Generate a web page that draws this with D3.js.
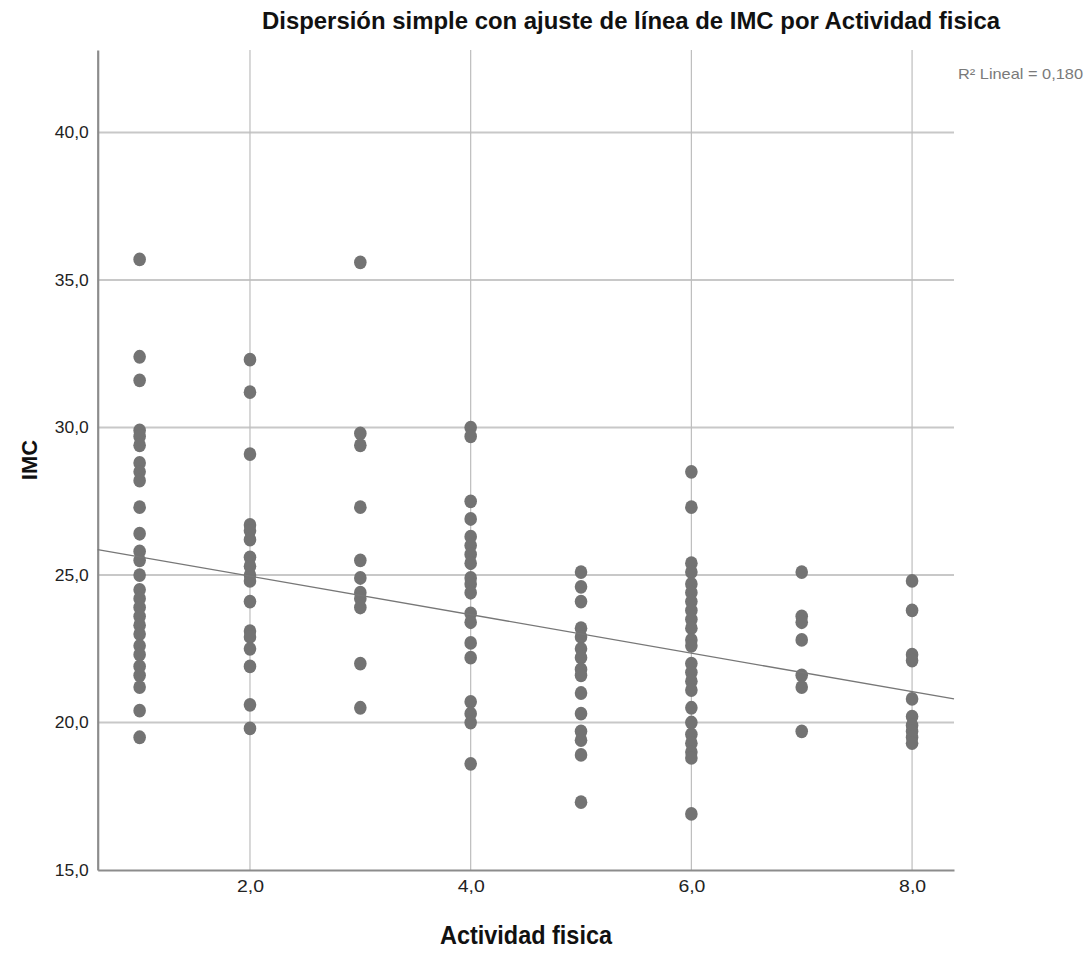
<!DOCTYPE html>
<html>
<head>
<meta charset="utf-8">
<script src="https://cdn.jsdelivr.net/npm/d3@7"></script>
<style>
  html, body { margin: 0; padding: 0; background: #fff; }
  svg { display: block; }
</style>
</head>
<body>
<svg id="chart" width="1090" height="968"></svg>
<script>
// ---- Data ----
const actividad1 = [35.7, 32.4, 31.6, 29.9, 29.7, 29.4, 28.8, 28.5, 28.2, 27.3, 26.4, 25.8, 25.5, 25.0, 24.5, 24.2, 23.9, 23.6, 23.3, 23.0, 22.6, 22.3, 21.9, 21.6, 21.2, 20.4, 19.5];
const actividad2 = [32.3, 31.2, 29.1, 26.7, 26.5, 26.2, 25.6, 25.3, 25.0, 24.8, 24.1, 23.1, 22.9, 22.5, 21.9, 20.6, 19.8];
const actividad3 = [35.6, 29.8, 29.4, 27.3, 25.5, 24.9, 24.4, 24.2, 23.9, 22.0, 20.5];
const actividad4 = [30.0, 29.7, 27.5, 26.9, 26.3, 26.0, 25.7, 25.4, 24.9, 24.7, 24.4, 23.7, 23.4, 22.7, 22.2, 20.7, 20.3, 20.0, 18.6];
const actividad5 = [25.1, 24.6, 24.1, 23.2, 22.9, 22.5, 22.2, 21.8, 21.6, 21.0, 20.3, 19.7, 19.4, 18.9, 17.3];
const actividad6 = [28.5, 27.3, 25.4, 25.1, 24.7, 24.4, 24.1, 23.8, 23.5, 23.2, 22.8, 22.6, 22.0, 21.7, 21.4, 21.1, 20.5, 20.0, 19.6, 19.3, 19.0, 18.8, 16.9];
const actividad7 = [25.1, 23.6, 23.4, 22.8, 21.6, 21.2, 19.7];
const actividad8 = [24.8, 23.8, 22.3, 22.1, 20.8, 20.2, 19.9, 19.7, 19.5, 19.3];
const actividadLevels = [1, 2, 3, 4, 5, 6, 7, 8];
// fitted line as drawn in the reference: [intercept, slope]
const fitCoefficients = [26.27, -0.653];
const xTicks = [2, 4, 6, 8];
const yTicks = [15, 20, 25, 30, 35, 40];
const xDomain = [0.62, 8.38];
const yDomain = [15, 42.8];
const r2Text = "R² Lineal = 0,180";
const titleText = "Dispersión simple con ajuste de línea de IMC por Actividad fisica";
const xLabel = "Actividad fisica";
const yLabel = "IMC";

const columns = [actividad1, actividad2, actividad3, actividad4, actividad5, actividad6, actividad7, actividad8];
const points = [];
columns.forEach((vals, i) => vals.forEach(v => points.push({ x: actividadLevels[i], y: v })));
const [intercept, slope] = fitCoefficients;

// ---- Layout ----
const svg = d3.select("#chart");
const L = 97.7, R = 954, T = 50, B = 870;
const x = d3.scaleLinear().domain(xDomain).range([L, R]);
const y = d3.scaleLinear().domain(yDomain).range([B, T]);
const font = "'Liberation Sans', Arial, sans-serif";

// gridlines
svg.append("g").selectAll("line").data(yTicks.filter(t => t > 15)).join("line")
  .attr("x1", L).attr("x2", R).attr("y1", d => y(d)).attr("y2", d => y(d))
  .attr("stroke", "#c8c8c8").attr("stroke-width", 2);
svg.append("g").selectAll("line").data(xTicks).join("line")
  .attr("x1", d => x(d)).attr("x2", d => x(d)).attr("y1", T).attr("y2", B)
  .attr("stroke", "#bdbdbd").attr("stroke-width", 1.2);

// axes
const fmt = d => d3.format(".1f")(d).replace(".", ",");
const xAxis = d3.axisBottom(x).tickValues(xTicks).tickSize(0).tickPadding(8).tickFormat(fmt);
const yAxis = d3.axisLeft(y).tickValues(yTicks).tickSize(0).tickPadding(9).tickFormat(fmt);
const gx = svg.append("g").attr("transform", `translate(0,${B})`).call(xAxis);
const gy = svg.append("g").attr("transform", `translate(${L},0)`).call(yAxis);
[gx, gy].forEach(g => {
  g.select(".domain").attr("stroke", "#8c8c8c").attr("stroke-width", 2.2);
  g.selectAll("text").attr("font-family", font).attr("font-size", 16).attr("fill", "#222")
    .attr("textLength", 34).attr("lengthAdjust", "spacingAndGlyphs");
});
gx.selectAll("text").attr("textLength", 27).attr("dy", "0.85em");

// points
svg.append("g").selectAll("ellipse").data(points).join("ellipse")
  .attr("cx", d => x(d.x)).attr("cy", d => y(d.y))
  .attr("rx", 6.3).attr("ry", 6.9)
  .attr("fill", "#737373");

// fit line
svg.append("line")
  .attr("x1", x(xDomain[0])).attr("y1", y(intercept + slope * xDomain[0]))
  .attr("x2", x(xDomain[1])).attr("y2", y(intercept + slope * xDomain[1]))
  .attr("stroke", "#777").attr("stroke-width", 1.3);

// texts
svg.append("text").attr("x", 262).attr("y", 29)
  .attr("font-family", font).attr("font-weight", "bold").attr("font-size", 24)
  .attr("textLength", 738).attr("lengthAdjust", "spacingAndGlyphs")
  .attr("fill", "#111").text(titleText);
svg.append("text").attr("x", 958).attr("y", 79)
  .attr("font-family", font).attr("font-size", 15)
  .attr("textLength", 125).attr("lengthAdjust", "spacingAndGlyphs")
  .attr("fill", "#7a7a7a").text(r2Text);
svg.append("text").attr("x", 440).attr("y", 944)
  .attr("font-family", font).attr("font-weight", "bold").attr("font-size", 25)
  .attr("textLength", 172).attr("lengthAdjust", "spacingAndGlyphs")
  .attr("fill", "#111").text(xLabel);
svg.append("text").attr("transform", `translate(37,460) rotate(-90)`).attr("text-anchor", "middle")
  .attr("font-family", font).attr("font-weight", "bold").attr("font-size", 22)
  .attr("fill", "#111").text(yLabel);
</script>
</body>
</html>
